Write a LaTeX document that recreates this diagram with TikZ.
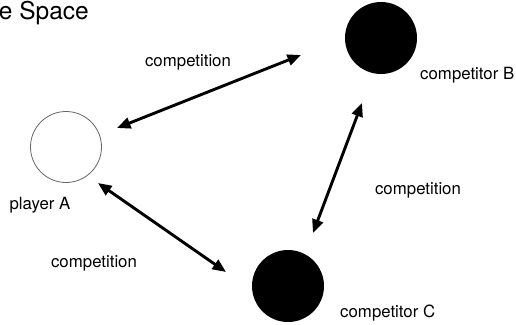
\documentclass[tikz,border=0pt]{standalone}
\usepackage{fontspec}
\setmainfont{TeX Gyre Heros}
\usetikzlibrary{arrows.meta}
\begin{document}
\begin{tikzpicture}[x=1pt,y=-1pt,
  player/.style={circle,draw=black!60,line width=0.8pt,minimum size=71pt,inner sep=0pt},
  rival/.style={circle,fill=black,minimum size=72pt,inner sep=0pt},
  lbl/.style={font=\fontsize{16.8}{20}\selectfont,inner sep=0pt},
  rel/.style={line width=2.9pt,{Triangle[length=13.5pt,width=11pt]}-{Triangle[length=13.5pt,width=11pt]}}]
\useasboundingbox (0,0) rectangle (516,324);
\begin{scope}
\clip (0,0) rectangle (516,324);
\node[font=\fontsize{24.5}{28}\selectfont,inner sep=0pt,anchor=base east] (title) at (89,19.5) {e Space};
\end{scope}

% players
\node[player] (A) at (66,147) {};
\node[rival]  (B) at (381,38) {};
\node[rival]  (C) at (288,286) {};

% labels
\node[lbl] (la) at (40,205) {player A};
\node[lbl,anchor=west] (lb) at (420,75) {competitor B};
\node[lbl,anchor=west] (lc) at (340,313) {competitor C};

% arrow end points
\coordinate (ab1) at (117,128);
\coordinate (ab2) at (301,55);
\coordinate (bc1) at (362,103);
\coordinate (bc2) at (313,233);
\coordinate (ac1) at (98,183);
\coordinate (ac2) at (226,272);

\draw[rel] (ab1) -- (ab2);
\draw[rel] (bc1) -- (bc2);
\draw[rel] (ac1) -- (ac2);

\node[lbl] (cab) at (188,62) {competition};
\node[lbl] (cbc) at (418,190) {competition};
\node[lbl] (cac) at (94,263) {competition};
\end{tikzpicture}
\end{document}
